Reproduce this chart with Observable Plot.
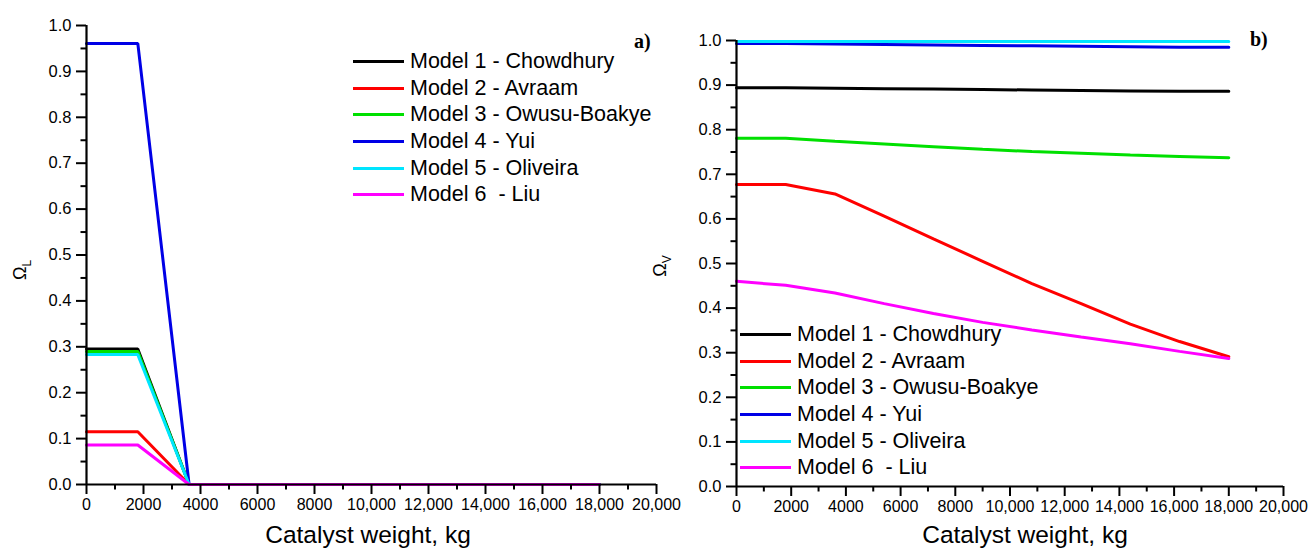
<!DOCTYPE html>
<html>
<head>
<meta charset="utf-8">
<script src="https://cdn.jsdelivr.net/npm/d3@7"></script>
<script src="https://cdn.jsdelivr.net/npm/@observablehq/plot@0.6"></script>
<style>
  html, body { margin: 0; padding: 0; background: #fff; }
  #wrap { position: relative; width: 1311px; height: 551px; overflow: hidden; font-family: "Liberation Sans", Arial, sans-serif; color: #000; }
  .panel { position: absolute; top: 0; }
  .panel svg { overflow: visible; }
  .legend { position: absolute; font-size: 21.5px; line-height: 26.7px; }
  .legend .row { display: flex; align-items: center; height: 26.7px; white-space: pre; }
  .legend .sw { width: 51px; height: 3px; margin-right: 6px; }
  .xlabel { position: absolute; font-size: 24.5px; transform: translateX(-50%); white-space: nowrap; }
  .ylabel { position: absolute; font-size: 18px; transform: translate(-50%, -50%) rotate(-90deg); white-space: nowrap; }
  .ylabel sub { font-size: 12px; }
  .tag { position: absolute; font-family: "Liberation Serif", "Times New Roman", serif; font-weight: bold; font-size: 20px; }
</style>
</head>
<body>
<div id="wrap"></div>
<script>
// ---------- data ----------
const models = ["Model 1 - Chowdhury", "Model 2 - Avraam", "Model 3 - Owusu-Boakye", "Model 4 - Yui", "Model 5 - Oliveira", "Model 6  - Liu"];
const colors = ["#000000", "#ff0000", "#00e000", "#0000e6", "#00e5ff", "#ff00ff"];
const catalystWeight = [0, 1800, 3600, 5400, 7200, 9000, 10800, 12600, 14400, 16200, 18000];

// Panel a) liquid phase Omega_L
const omegaL_m1 = [0.295, 0.295, 0, 0, 0, 0, 0, 0, 0, 0, 0];
const omegaL_m2 = [0.115, 0.115, 0, 0, 0, 0, 0, 0, 0, 0, 0];
const omegaL_m3 = [0.290, 0.290, 0, 0, 0, 0, 0, 0, 0, 0, 0];
const omegaL_m4 = [0.961, 0.961, 0, 0, 0, 0, 0, 0, 0, 0, 0];
const omegaL_m5 = [0.283, 0.283, 0, 0, 0, 0, 0, 0, 0, 0, 0];
const omegaL_m6 = [0.086, 0.086, 0, 0, 0, 0, 0, 0, 0, 0, 0];

// Panel b) vapour phase Omega_V
const omegaV_m1 = [0.894, 0.894, 0.893, 0.892, 0.891, 0.890, 0.889, 0.888, 0.887, 0.886, 0.886];
const omegaV_m2 = [0.677, 0.677, 0.656, 0.606, 0.555, 0.505, 0.455, 0.410, 0.364, 0.325, 0.291];
const omegaV_m3 = [0.781, 0.781, 0.774, 0.768, 0.762, 0.756, 0.751, 0.747, 0.743, 0.740, 0.737];
const omegaV_m4 = [0.993, 0.993, 0.992, 0.991, 0.990, 0.989, 0.988, 0.987, 0.986, 0.985, 0.985];
const omegaV_m5 = [0.998, 0.998, 0.998, 0.998, 0.998, 0.998, 0.998, 0.998, 0.998, 0.998, 0.998];
const omegaV_m6 = [0.460, 0.451, 0.434, 0.410, 0.388, 0.368, 0.351, 0.335, 0.320, 0.303, 0.287];

const xTicks = [0, 2000, 4000, 6000, 8000, 10000, 12000, 14000, 16000, 18000, 20000];
const xMinor = [1000, 3000, 5000, 7000, 9000, 11000, 13000, 15000, 17000, 19000];
const yTicks = [0, 0.1, 0.2, 0.3, 0.4, 0.5, 0.6, 0.7, 0.8, 0.9, 1.0];
const yMinor = [0.05, 0.15, 0.25, 0.35, 0.45, 0.55, 0.65, 0.75, 0.85, 0.95];

// ---------- build ----------
function tidy(series) {
  const rows = [];
  series.forEach((vals, i) => vals.forEach((v, j) => rows.push({model: models[i], x: catalystWeight[j], y: v})));
  return rows;
}
const dataL = tidy([omegaL_m1, omegaL_m2, omegaL_m3, omegaL_m4, omegaL_m5, omegaL_m6]);
const dataV = tidy([omegaV_m1, omegaV_m2, omegaV_m3, omegaV_m4, omegaV_m5, omegaV_m6]);

const xFmt = d => d >= 10000 ? d3.format(",")(d) : String(d);
const yFmt = d3.format(".1f");
const X_DOMAIN = [0, 20000], Y_DOMAIN = [0, 1];

function panel(data, opts) {
  const H = 551;
  const pw = opts.width - opts.ml - opts.mr;
  const ph = H - opts.mt - opts.mb;
  // tick lengths in pixels expressed in data units so the marks sit just outside the frame
  const dy = px => px * (Y_DOMAIN[1] - Y_DOMAIN[0]) / ph;
  const dx = px => px * (X_DOMAIN[1] - X_DOMAIN[0]) / pw;
  const xRows = [
    ...xTicks.map(v => ({v, a: Y_DOMAIN[0], b: Y_DOMAIN[0] - dy(10)})),
    ...xMinor.map(v => ({v, a: Y_DOMAIN[0], b: Y_DOMAIN[0] - dy(5.5)}))
  ];
  const yRows = [
    ...yTicks.map(v => ({v, a: X_DOMAIN[0], b: X_DOMAIN[0] - dx(10)})),
    ...yMinor.map(v => ({v, a: X_DOMAIN[0], b: X_DOMAIN[0] - dx(5.5)}))
  ];
  return Plot.plot({
    width: opts.width,
    height: H,
    marginLeft: opts.ml, marginRight: opts.mr, marginTop: opts.mt, marginBottom: opts.mb,
    style: {fontFamily: "'Liberation Sans', Arial, sans-serif"},
    x: {domain: X_DOMAIN, axis: null},
    y: {domain: Y_DOMAIN, axis: null},
    color: {domain: models, range: colors},
    marks: [
      Plot.line(data, {x: "x", y: "y", z: "model", stroke: "model", strokeWidth: 3, strokeLinejoin: "miter"}),
      Plot.ruleX(xRows, {x: "v", y1: "a", y2: "b", stroke: "black", strokeWidth: 2}),
      Plot.ruleY(yRows, {y: "v", x1: "a", x2: "b", stroke: "black", strokeWidth: 2}),
      Plot.axisX(xTicks, {tickSize: 0, tickPadding: 14, tickFormat: xFmt, fontSize: 16, fill: "black", label: null}),
      Plot.axisY(yTicks, {tickSize: 0, tickPadding: 15, tickFormat: yFmt, fontSize: 16.5, fill: "black", label: null}),
      Plot.ruleY([Y_DOMAIN[0]], {stroke: "black", strokeWidth: 2.2}),
      Plot.ruleX([X_DOMAIN[0]], {stroke: "black", strokeWidth: 2.2})
    ]
  });
}

const wrap = document.getElementById("wrap");

function addPanel(left, svg) {
  const d = document.createElement("div");
  d.className = "panel";
  d.style.left = left + "px";
  d.appendChild(svg);
  wrap.appendChild(d);
}

addPanel(0, panel(dataL, {width: 660, ml: 86, mr: 4, mt: 25, mb: 67}));
addPanel(650, panel(dataV, {width: 661, ml: 86, mr: 28, mt: 40, mb: 65}));

function addLegend(left, top) {
  const lg = document.createElement("div");
  lg.className = "legend";
  lg.style.left = left + "px";
  lg.style.top = top + "px";
  models.forEach((m, i) => {
    const r = document.createElement("div");
    r.className = "row";
    const sw = document.createElement("span");
    sw.className = "sw";
    sw.style.background = colors[i];
    const t = document.createElement("span");
    t.textContent = m;
    r.appendChild(sw); r.appendChild(t);
    lg.appendChild(r);
  });
  wrap.appendChild(lg);
}
addLegend(353, 48);
addLegend(740, 321);

function addText(cls, html, left, top) {
  const d = document.createElement("div");
  d.className = cls;
  d.innerHTML = html;
  d.style.left = left + "px";
  d.style.top = top + "px";
  wrap.appendChild(d);
}
addText("xlabel", "Catalyst weight, kg", 368, 521);
addText("xlabel", "Catalyst weight, kg", 1025, 521);
addText("ylabel", "&Omega;<sub>L</sub>", 22, 270);
addText("ylabel", "&Omega;<sub>V</sub>", 662, 266);
addText("tag", "a)", 634, 30);
addText("tag", "b)", 1250, 28);
</script>
</body>
</html>
